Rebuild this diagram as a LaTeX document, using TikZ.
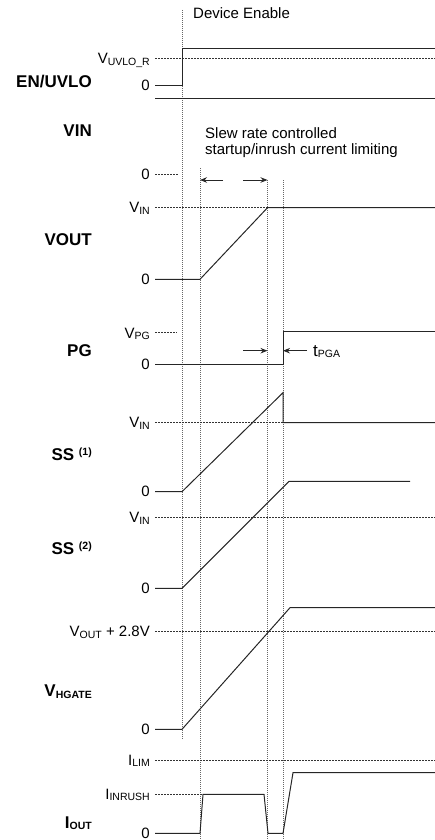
\documentclass[tikz,border=0pt]{standalone}
\usepackage{fontspec}
\setmainfont{Liberation Sans}
\usetikzlibrary{arrows.meta}

\newcommand{\lsub}[1]{\raisebox{-1.6pt}{\fontsize{10.5}{10.5}\selectfont #1}}
\newcommand{\lsup}[1]{\raisebox{5pt}{\fontsize{10.5}{10.5}\selectfont #1}}

\begin{document}
\begin{tikzpicture}[
      x = 1pt, y = -1pt,
      sig/.style     = {draw = black!85, line width = 1pt},
      lvl/.style     = {draw = black!80, line width = .6pt, dash pattern = on 2pt off 1pt},
      tline/.style   = {draw = black!60, line width = .7pt, dash pattern = on 1pt off 1pt},
      arr/.style     = {-{Stealth[length = 7pt, width = 5.5pt]}, draw = black!85, line width = .9pt},
      signame/.style = {anchor = base east, inner sep = 0pt, font = \fontsize{17}{17}\selectfont\bfseries},
      lab/.style     = {anchor = base east, inner sep = 0pt, font = \fontsize{15}{15}\selectfont},
      note/.style    = {anchor = base west, inner sep = 0pt, align = left, font = \fontsize{15}{16}\selectfont}
    ]

  \useasboundingbox (0,0) rectangle (435,840);

  % ---------- time markers ----------------------------------------------
  \draw[tline] (182,10)    -- (182,740);
  \draw[tline] (200,168)   -- (200,840);
  \draw[tline] (267.5,180) -- (267.5,840);
  \draw[tline] (283,180)   -- (283,840);

  \node[note] (enable) at (193,19) {Device Enable};

  % ---------- EN/UVLO ----------------------------------------------------
  \node[signame] (nen)   at (92,87.5) {EN/UVLO};
  \node[lab]     (luvlo) at (150,64)  {V\lsub{UVLO\_R}};
  \node[lab]     (len)   at (150,91)  {0};
  \draw[lvl] (155,58.7) -- (435,58.7);
  \draw[sig] (155,86) -- (182,86) -- (182,48.3) -- (435,48.3);

  % ---------- VIN --------------------------------------------------------
  \draw[sig] (155,99) -- (435,99);
  \node[signame] (nvin) at (92,136) {VIN};
  \node[lab]     (lvin) at (150,179) {0};
  \draw[lvl] (155,174) -- (178,174);

  \node[note] (slew) at (205,154) {Slew rate controlled\\startup/inrush current limiting};
  \coordinate (slewA) at (223,180);   \coordinate (slewB) at (200,180);
  \coordinate (slewC) at (243,180);   \coordinate (slewD) at (267.5,180);
  \draw[arr] (slewA) -- (slewB);
  \draw[arr] (slewC) -- (slewD);

  % ---------- VOUT -------------------------------------------------------
  \node[signame] (nvout)   at (92,245.7)  {VOUT};
  \node[lab]     (lvouthi) at (150,212.7) {V\lsub{IN}};
  \node[lab]     (lvoutlo) at (150,284.3) {0};
  \draw[lvl] (155,207.7) -- (267.5,207.7);
  \draw[sig] (155,279.3) -- (200,279.3) -- (267.5,207.7) -- (435,207.7);

  % ---------- PG ---------------------------------------------------------
  \node[signame] (npg)   at (92,356.7)  {PG};
  \node[lab]     (lpghi) at (150,338.3) {V\lsub{PG}};
  \node[lab]     (lpglo) at (150,369.3) {0};
  \draw[lvl] (155,332.7) -- (177,332.7);
  \draw[sig] (155,364.3) -- (283,364.3) -- (283,331) -- (435,331);

  \node[note, font = \fontsize{17}{17}\selectfont] (tpga) at (313,356) {t\lsub{PGA}};
  \coordinate (pgA) at (243,350.7);   \coordinate (pgB) at (267.5,350.7);
  \coordinate (pgC) at (307,350.7);   \coordinate (pgD) at (283,350.7);
  \draw[arr] (pgA) -- (pgB);
  \draw[arr] (pgC) -- (pgD);

  % ---------- SS (1) -----------------------------------------------------
  \node[signame] (nssa)   at (92,460.7)  {SS \lsup{(1)}};
  \node[lab]     (lssahi) at (150,427.7) {V\lsub{IN}};
  \node[lab]     (lssalo) at (150,496.7) {0};
  \draw[lvl] (155,422.7) -- (283,422.7);
  \draw[sig] (155,491.7) -- (182,491.7) -- (283,392.7) -- (283,422.7) -- (435,422.7);

  % ---------- SS (2) -----------------------------------------------------
  \node[signame] (nssb)   at (92,554)    {SS \lsup{(2)}};
  \node[lab]     (lssbhi) at (150,522.7) {V\lsub{IN}};
  \node[lab]     (lssblo) at (150,593.3) {0};
  \draw[lvl] (155,517.7) -- (435,517.7);
  \draw[sig] (155,588.3) -- (182,588.3) -- (289,481.3) -- (410,481.3);

  % ---------- VHGATE -----------------------------------------------------
  \node[signame] (ngate)   at (92,696.7)  {V\lsub{HGATE}};
  \node[lab]     (lgatehi) at (150,636.7) {V\lsub{OUT} + 2.8V};
  \node[lab]     (lgatelo) at (150,734.3) {0};
  \draw[lvl] (155,631.7) -- (435,631.7);
  \draw[sig] (155,729.3) -- (182,729.3) -- (290,607.7) -- (435,607.7);

  % ---------- IOUT -------------------------------------------------------
  \node[signame] (niout) at (92,828)    {I\lsub{OUT}};
  \node[lab]     (llim)  at (150,765)   {I\lsub{LIM}};
  \node[lab]     (linr)  at (150,799.3) {I\lsub{INRUSH}};
  \node[lab]     (lilo)  at (150,838.3) {0};
  \draw[lvl] (155,760) -- (435,760);
  \draw[lvl] (155,794.3) -- (203,794.3);
  \draw[sig] (155,833.3) -- (200,833.3) -- (203,794.3) -- (264,794.3) -- (268,833.3)
             -- (283,833.3) -- (293,772.7) -- (435,772.7);

  \end{tikzpicture}
\end{document}
